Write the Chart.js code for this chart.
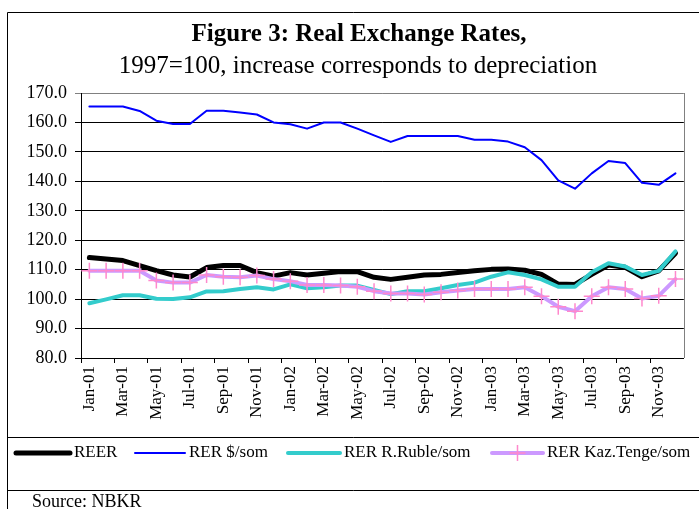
<!DOCTYPE html>
<html>
<head>
<meta charset="utf-8">
<script src="https://cdn.jsdelivr.net/npm/chart.js@4/dist/chart.umd.min.js"></script>
<style>
  html, body { margin: 0; padding: 0; background: #fff; }
  #chart { display: block; }
</style>
</head>
<body>
<canvas id="chart" width="699" height="509"></canvas>
<script>
// Categories: monthly, Jan-01 .. Dec-03
const months = ['Jan','Feb','Mar','Apr','May','Jun','Jul','Aug','Sep','Oct','Nov','Dec'];
const years  = ['01','02','03'];
const labels = years.flatMap(y => months.map(m => `${m}-${y}`));

// Series (1997=100)
const reer = [114.1,113.6,113.1,111.4,109.7,108.2,107.5,110.7,111.4,111.4,109.0,107.8,
              109.0,108.2,108.8,109.4,109.3,107.4,106.7,107.4,108.2,108.4,109.0,109.6,
              110.1,110.2,109.8,108.4,105.1,105.0,108.4,111.6,110.8,107.6,109.6,115.6];
const rerUsd = [165.4,165.4,165.4,163.9,160.6,159.5,159.5,164.0,164.0,163.4,162.7,160.0,
                159.4,157.9,160.0,160.0,157.9,155.6,153.4,155.4,155.4,155.4,155.4,154.1,
                154.1,153.5,151.6,147.2,140.3,137.5,142.7,146.9,146.2,139.5,138.8,142.7];
const rerRub = [98.6,99.9,101.3,101.3,100.1,100.0,100.6,102.6,102.7,103.4,104.0,103.3,
                105.0,103.7,104.0,104.6,104.6,103.1,101.7,102.7,102.7,103.7,104.8,105.6,
                107.6,109.1,108.2,106.7,104.2,104.2,109.1,112.2,111.1,108.2,109.6,116.2];
const rerKzt = [109.6,109.6,109.6,109.6,106.3,105.6,105.6,108.2,107.6,107.4,108.0,106.8,
                106.1,104.8,104.8,104.6,104.2,102.7,101.9,101.9,101.6,102.3,102.9,103.4,
                103.4,103.4,104.0,101.0,97.4,95.9,101.0,104.0,103.4,100.2,101.1,106.8];

const yTicks = { min: 80, max: 170, step: 10 };

const serif = "'Liberation Serif', 'Times New Roman', serif";

// frame, titles, legend and source note around the plot
const decorations = {
  id: 'decorations',
  afterDraw(chart) {
    const { ctx, chartArea: a } = chart;
    ctx.save();

    // outer frame + section separators
    ctx.strokeStyle = '#000';
    ctx.lineWidth = 1;
    ctx.beginPath();
    ctx.moveTo(7.5, 509); ctx.lineTo(7.5, 12.5); ctx.lineTo(699, 12.5);
    ctx.moveTo(7.5, 437.5); ctx.lineTo(699, 437.5);
    ctx.moveTo(7.5, 490.5); ctx.lineTo(699, 490.5);
    ctx.stroke();

    // gray right border of the plot area
    ctx.strokeStyle = '#808080';
    ctx.beginPath();
    ctx.moveTo(Math.round(a.right) + 0.5, a.top);
    ctx.lineTo(Math.round(a.right) + 0.5, a.bottom);
    ctx.stroke();

    // titles
    ctx.fillStyle = '#000';
    ctx.textAlign = 'center';
    ctx.textBaseline = 'middle';
    ctx.font = `bold 25px ${serif}`;
    ctx.fillText('Figure 3: Real Exchange Rates,', 359, 35);
    ctx.font = `25px ${serif}`;
    ctx.fillText('1997=100, increase corresponds to depreciation', 358, 66);

    // legend
    const items = [
      { ds: 0, x0: 16, x1: 70 },
      { ds: 1, x0: 135, x1: 185 },
      { ds: 2, x0: 288, x1: 340 },
      { ds: 3, x0: 492, x1: 543 },
    ];
    const ly = 453;
    ctx.font = `17px ${serif}`;
    ctx.textAlign = 'left';
    items.forEach(it => {
      const ds = chart.data.datasets[it.ds];
      ctx.strokeStyle = ds.borderColor;
      ctx.lineWidth = ds.borderWidth;
      ctx.lineCap = 'round';
      ctx.beginPath();
      ctx.moveTo(it.x0, ly); ctx.lineTo(it.x1, ly);
      ctx.stroke();
      if (ds.pointRadius) {
        const cx = (it.x0 + it.x1) / 2, r = ds.pointRadius;
        ctx.strokeStyle = ds.pointBorderColor;
        ctx.lineWidth = ds.pointBorderWidth;
        ctx.lineCap = 'butt';
        ctx.beginPath();
        ctx.moveTo(cx - r, ly); ctx.lineTo(cx + r, ly);
        ctx.moveTo(cx, ly - r); ctx.lineTo(cx, ly + r);
        ctx.stroke();
      }
      ctx.fillStyle = '#000';
      ctx.fillText(ds.label, it.x1 + 4, ly);
    });

    // source
    ctx.font = `18px ${serif}`;
    ctx.textBaseline = 'alphabetic';
    ctx.fillText('Source: NBKR', 32, 507);

    ctx.restore();
  }
};

new Chart(document.getElementById('chart'), {
  type: 'line',
  data: {
    labels,
    datasets: [
      { label: 'REER', data: reer, borderColor: '#000000', borderWidth: 5, pointRadius: 0, order: 3 },
      { label: 'RER $/som', data: rerUsd, borderColor: '#0000FF', borderWidth: 2, pointRadius: 0, order: 2 },
      { label: 'RER R.Ruble/som', data: rerRub, borderColor: '#33CCCC', borderWidth: 4, pointRadius: 0, order: 1 },
      { label: 'RER Kaz.Tenge/som', data: rerKzt, borderColor: '#CC99FF', borderWidth: 4,
        pointStyle: 'cross', pointRadius: 8, pointBorderColor: '#FF88CC', pointBorderWidth: 1.5,
        pointBackgroundColor: '#FF88CC', order: 0 },
    ],
  },
  options: {
    responsive: false,
    animation: false,
    events: [],
    layout: { padding: { top: 93, right: 6, left: 0, bottom: 0 } },
    elements: { line: { tension: 0, borderJoinStyle: 'round', borderCapStyle: 'round' } },
    plugins: { legend: { display: false }, title: { display: false }, tooltip: { enabled: false } },
    scales: {
      x: {
        offset: true,
        afterFit: s => { s.height = 151; },
        grid: {
          offset: true,
          drawOnChartArea: false,
          tickLength: 5,
          color: c => (c.index % 2 === 0 ? '#000' : 'rgba(0,0,0,0)'),
        },
        border: { color: '#000', width: 1 },
        ticks: {
          autoSkip: false,
          minRotation: 90,
          maxRotation: 90,
          padding: 3,
          color: '#000',
          font: { family: serif, size: 17 },
          callback: (v, i) => (i % 2 === 0 ? labels[i] : ''),
        },
      },
      y: {
        min: yTicks.min,
        max: yTicks.max,
        afterFit: s => { s.width = 81; },
        grid: {
          tickLength: 6,
          color: c => (c.tick && c.tick.value === yTicks.max ? '#808080' : '#000'),
        },
        border: { color: '#000', width: 1 },
        ticks: {
          stepSize: yTicks.step,
          padding: 8,
          color: '#000',
          font: { family: serif, size: 18 },
          callback: v => v.toFixed(1),
        },
      },
    },
  },
  plugins: [decorations],
});
</script>
</body>
</html>
